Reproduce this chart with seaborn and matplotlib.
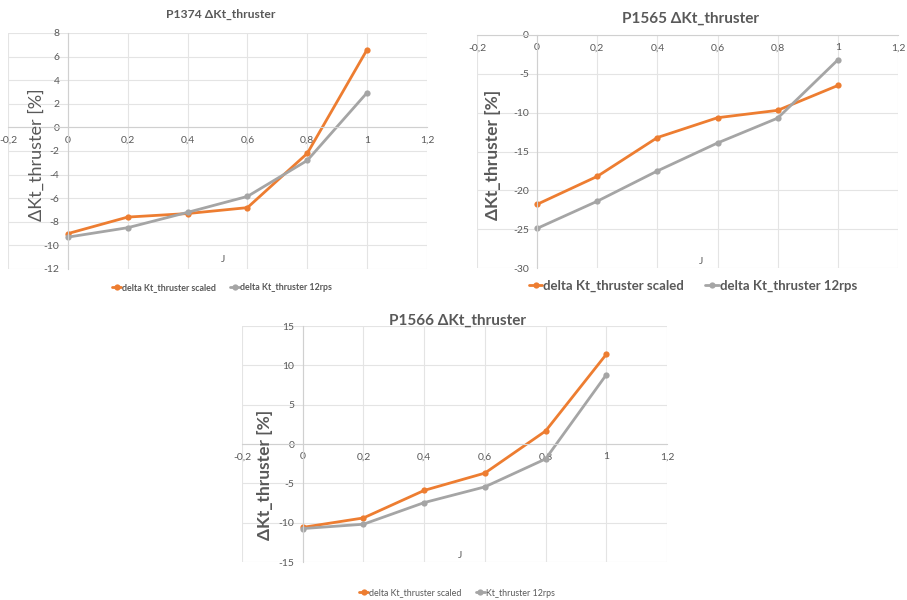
import numpy as np
import pandas as pd
import matplotlib
matplotlib.use("Agg")
import matplotlib.pyplot as plt
import seaborn as sns

sns.set_style("white")
plt.rcParams['font.family'] = ['Lato', 'DejaVu Sans']

J = [0.0, 0.2, 0.4, 0.6, 0.8, 1.0]

p1374_scaled = [-9.0, -7.6, -7.3, -6.8, -2.2, 6.6]
p1374_12rps = [-9.3, -8.5, -7.2, -5.85, -2.8, 2.95]

p1565_scaled = [-21.8, -18.2, -13.2, -10.65, -9.7, -6.5]
p1565_12rps = [-24.9, -21.4, -17.5, -13.9, -10.7, -3.2]

p1566_scaled = [-10.6, -9.4, -5.9, -3.7, 1.65, 11.4]
p1566_12rps = [-10.75, -10.2, -7.45, -5.45, -1.9, 8.8]

x_ticks = [-0.2, 0.0, 0.2, 0.4, 0.6, 0.8, 1.0, 1.2]
x_tick_labels = ["-0,2", "0", "0,2", "0,4", "0,6", "0,8", "1", "1,2"]

ORANGE = "#ED7D31"
GRAY = "#A5A5A5"
TXT = "#595959"
GRID = "#E4E4E4"

W, H = 907, 600
fig = plt.figure(figsize=(W / 100, H / 100), dpi=100)


def px_axes(l, t, r, b):
    return fig.add_axes([l / W, 1 - b / H, (r - l) / W, (b - t) / H])


def draw(ax, s1, s2, lab1, lab2, ylim, ystep):
    df = pd.DataFrame({
        "J": J * 2,
        "val": s1 + s2,
        "series": [lab1] * len(J) + [lab2] * len(J),
    })
    sns.lineplot(data=df, x="J", y="val", hue="series", palette=[ORANGE, GRAY],
                 marker="o", markersize=4.5, markeredgewidth=0, linewidth=2,
                 ax=ax, legend=True)
    h, l = ax.get_legend_handles_labels()
    ax.get_legend().remove()
    ax.set_xlim(-0.2, 1.2)
    ax.set_ylim(*ylim)
    ax.set_xticks(x_ticks)
    ax.set_xticklabels(x_tick_labels)
    yt = np.arange(ylim[0], ylim[1] + ystep / 2, ystep)
    ax.set_yticks(yt)
    ax.set_yticklabels([f"{int(v)}" for v in yt])
    ax.grid(True, color=GRID, linewidth=0.8)
    ax.set_axisbelow(True)
    for s in ["top", "right"]:
        ax.spines[s].set_visible(False)
    ax.spines["left"].set_position(("data", 0))
    ax.spines["bottom"].set_position(("data", 0))
    ax.spines["left"].set_color("#D0D0D0")
    ax.spines["bottom"].set_color("#D0D0D0")
    ax.tick_params(length=0, colors=TXT, labelsize=7.5, pad=6)
    ax.set_xlabel("")
    ax.set_ylabel("")
    return h, l


# Chart 1
ax1 = px_axes(8, 33, 427, 269)
h, l = draw(ax1, p1374_scaled, p1374_12rps,
            "delta Kt_thruster scaled", "delta Kt_thruster 12rps", (-12, 8), 2)
fig.text(221 / W, 1 - 14 / H, "P1374 ΔKt_thruster", ha="center", va="center",
         fontsize=8.7, fontweight="bold", color=TXT)
fig.text(37 / W, 1 - 155 / H, "ΔKt_thruster [%]", rotation=90, ha="center",
         va="center", fontsize=13, color=TXT)
fig.text(223 / W, 1 - 260 / H, "J", ha="center", va="center", fontsize=7.5,
         color=TXT)
fig.legend(h, l, loc="center", bbox_to_anchor=(222 / W, 1 - 288 / H), ncol=2,
           frameon=False, handlelength=1.0, handletextpad=0.1,
           columnspacing=1.6, prop={"weight": "bold", "size": 6.4},
           labelcolor=TXT)

# Chart 2
ax2 = px_axes(477, 35, 898, 268)
h, l = draw(ax2, p1565_scaled, p1565_12rps,
            "delta Kt_thruster scaled", "delta Kt_thruster 12rps", (-30, 0), 5)
fig.text(691 / W, 1 - 19 / H, "P1565 ΔKt_thruster", ha="center", va="center",
         fontsize=11, fontweight="bold", color=TXT)
fig.text(493 / W, 1 - 155 / H, "ΔKt_thruster [%]", rotation=90, ha="center",
         va="center", fontsize=12.5, fontweight="bold", color=TXT)
fig.text(701 / W, 1 - 262 / H, "J", ha="center", va="center", fontsize=7.5,
         color=TXT)
fig.legend(h, l, loc="center", bbox_to_anchor=(693 / W, 1 - 286 / H), ncol=2,
           frameon=False, handlelength=1.0, handletextpad=0.1,
           columnspacing=1.6, prop={"weight": "bold", "size": 9.5},
           labelcolor=TXT)

# Chart 3
ax3 = px_axes(242, 326, 667, 562)
h, l = draw(ax3, p1566_scaled, p1566_12rps,
            "delta Kt_thruster scaled", "Kt_thruster 12rps", (-15, 15), 5)
fig.text(457 / W, 1 - 321 / H, "P1566 ΔKt_thruster", ha="center", va="center",
         fontsize=11, fontweight="bold", color=TXT)
fig.text(265 / W, 1 - 475 / H, "ΔKt_thruster [%]", rotation=90, ha="center",
         va="center", fontsize=12.5, fontweight="bold", color=TXT)
fig.text(460 / W, 1 - 555 / H, "J", ha="center", va="center", fontsize=7.5,
         color=TXT)
fig.legend(h, l, loc="center", bbox_to_anchor=(457 / W, 1 - 593 / H), ncol=2,
           frameon=False, handlelength=1.0, handletextpad=0.1,
           columnspacing=1.6, prop={"weight": "normal", "size": 6.4},
           labelcolor=TXT)

fig.savefig("out.png", dpi=100, facecolor="white")
